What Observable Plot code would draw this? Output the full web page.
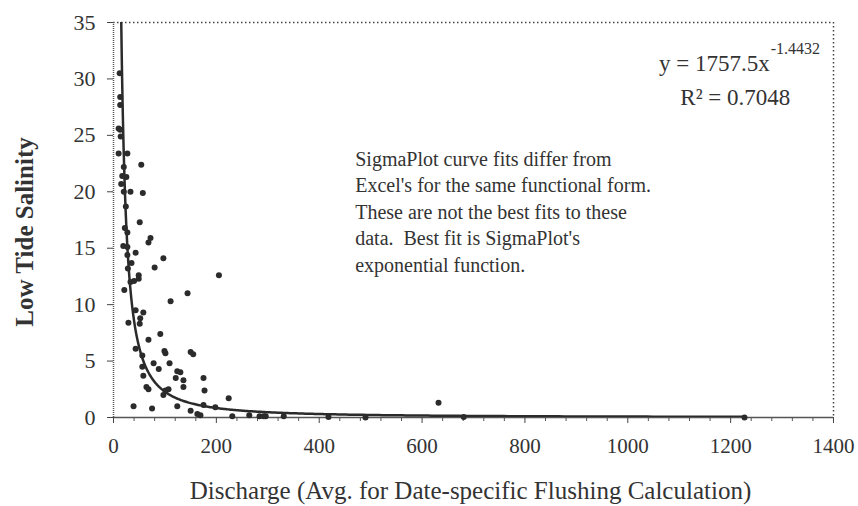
<!DOCTYPE html>
<html>
<head>
<meta charset="utf-8">
<script src="https://cdn.jsdelivr.net/npm/d3@7"></script>
<script src="https://cdn.jsdelivr.net/npm/@observablehq/plot@0.6"></script>
<style>
  html, body { margin: 0; padding: 0; background: #fff; }
  #chart svg { display: block; }
  #chart svg text { font-family: "Liberation Serif", "Times New Roman", serif !important; font-variant-numeric: normal !important; }
</style>
</head>
<body>
<div id="chart"></div>
<script>
// Discharge (x) and low tide salinity (y)
const discharge = [12, 13, 13, 10, 13, 14, 10, 27, 54, 20, 17, 25, 15, 20, 33, 57, 24, 51, 22, 27,
  72, 68, 19, 27, 43, 27, 97, 35, 80, 28, 49, 49, 205, 33, 40, 21, 144, 111, 43, 58,
  52, 29, 51, 91, 68, 43, 99, 101, 150, 155, 56, 78, 88, 109, 56, 124, 130, 58, 121, 136,
  175, 136, 64, 68, 101, 107, 177, 97, 124, 39, 75, 150, 163, 169, 224, 175, 198, 231, 264, 284,
  296, 331, 292, 418, 490, 632, 681, 1227];
const salinity = [30.5, 28.4, 27.7, 25.6, 25.5, 24.9, 23.4, 23.4, 22.4, 22.2, 21.4, 21.3, 20.7, 20.0, 20.0, 19.9, 18.7, 17.3, 16.8, 16.4,
  15.9, 15.5, 15.2, 15.1, 14.6, 14.4, 14.1, 13.7, 13.3, 13.2, 12.6, 12.3, 12.6, 12.0, 12.1, 11.3, 11.0, 10.3, 9.5, 9.3,
  8.8, 8.4, 8.3, 7.4, 6.9, 6.1, 5.9, 5.7, 5.8, 5.6, 5.5, 4.8, 4.3, 4.8, 4.5, 4.1, 4.0, 3.7, 3.5, 3.3,
  3.5, 2.7, 2.7, 2.5, 2.4, 2.5, 2.4, 2.0, 1.0, 1.0, 0.8, 0.6, 0.3, 0.2, 1.7, 1.1, 0.9, 0.1, 0.2, 0.1,
  0.1, 0.1, 0.1, 0.05, 0.0, 1.3, 0.05, 0.0];

// Power trendline printed on the chart: y = 1757.5 x^-1.4432
const fitA = 1757.5;
const fitB = -1.4432;

// Axis ticks
const xMajorTicks = [0, 200, 400, 600, 800, 1000, 1200, 1400];
const xMinorTicks = [40, 80, 120, 160, 240, 280, 320, 360, 440, 480, 520, 560, 640, 680, 720, 760,
  840, 880, 920, 960, 1040, 1080, 1120, 1160, 1240, 1280, 1320, 1360];
const yTicks = [0, 5, 10, 15, 20, 25, 30, 35];

// Texts
const xTitle = "Discharge (Avg. for Date-specific Flushing Calculation)";
const yTitle = "Low Tide Salinity";
const eqMain = "y = 1757.5x";
const eqExp = "-1.4432";
const r2Text = "R² = 0.7048";
const noteText = "SigmaPlot curve fits differ from\nExcel's for the same functional form.\nThese are not the best fits to these\ndata.  Best fit is SigmaPlot's\nexponential function.";

const points = discharge.map((d, i) => ({x: d, y: salinity[i]}));
const xMin = d3.min(discharge), xMax = d3.max(discharge);
const curveXs = [];
for (let i = 0; i <= 400; i++) curveXs.push(xMin * Math.pow(xMax / xMin, i / 400));
const curve = curveXs.map(x => ({x, y: fitA * Math.pow(x, fitB)}));

const ink = "#2b2b2b";
const font = "'Liberation Serif', 'Times New Roman', serif";
const fmt = d3.format("d");

const chart = Plot.plot({
  width: 858,
  height: 506,
  marginLeft: 113,
  marginRight: 25,
  marginTop: 22,
  marginBottom: 89,
  style: {fontFamily: font, color: "#333", background: "#fff"},
  x: {domain: [0, 1400]},
  y: {domain: [0, 35]},
  marks: [
    Plot.ruleY([35], {stroke: "#444", strokeWidth: 1.5, strokeDasharray: "1.5,2.5"}),
    Plot.ruleX([1400], {stroke: "#444", strokeWidth: 1.5, strokeDasharray: "1.5,2.5"}),
    Plot.ruleX([0], {stroke: "#555", strokeWidth: 1.5, strokeDasharray: "1,1"}),
    Plot.ruleY([0], {stroke: "#555", strokeWidth: 1.5}),
    Plot.axisY({ticks: yTicks, tickFormat: fmt, tickSize: 6, tickPadding: 12, fontSize: 22, label: null, stroke: "#444", fill: "#333"}),
    Plot.axisX({ticks: xMajorTicks, tickFormat: fmt, tickSize: 6, tickPadding: 15, fontSize: 21, label: null, stroke: "#444", fill: "#333"}),
    Plot.axisX({ticks: xMinorTicks, tickSize: 4, tickFormat: () => "", label: null, stroke: "#555"}),
    Plot.line(curve, {x: "x", y: "y", stroke: ink, strokeWidth: 2.5, clip: true}),
    Plot.dot(points, {x: "x", y: "y", r: 3, fill: ink, stroke: "none"}),
    Plot.text([xTitle], {frameAnchor: "bottom", lineAnchor: "middle", dx: -3, dy: 73, fontSize: 25, fill: "#333"}),
    Plot.text([yTitle], {frameAnchor: "left", textAnchor: "middle", lineAnchor: "middle", rotate: -90, dx: -89, dy: 12, fontSize: 25, fontWeight: "bold", fill: "#333"}),
    Plot.text([eqMain], {x: [1276], y: [31.4], textAnchor: "end", lineAnchor: "middle", fontSize: 23, fill: "#333"}),
    Plot.text([eqExp], {x: [1278], y: [32.7], textAnchor: "start", lineAnchor: "middle", fontSize: 16, fill: "#333"}),
    Plot.text([r2Text], {x: [1209], y: [28.3], textAnchor: "middle", lineAnchor: "middle", fontSize: 23, fill: "#333"}),
    Plot.text([noteText], {x: [470], y: [24.0], textAnchor: "start", lineAnchor: "top", lineHeight: 1.33, fontSize: 20, fill: "#333"})
  ]
});
document.getElementById("chart").appendChild(chart);
</script>
</body>
</html>
